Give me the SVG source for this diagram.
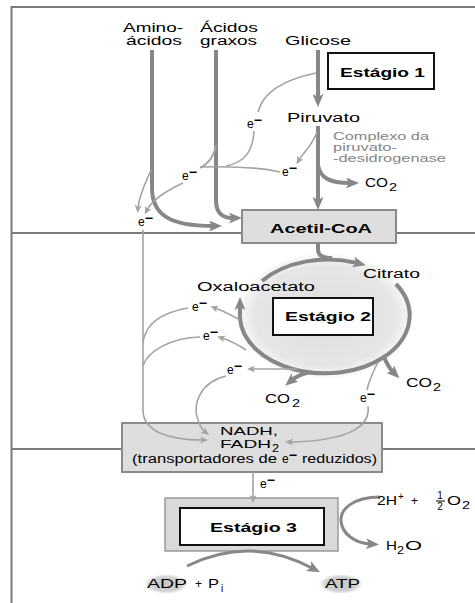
<svg xmlns="http://www.w3.org/2000/svg" width="475" height="603" viewBox="0 0 475 603">
<style>
text{font-family:"Liberation Sans",Arial,sans-serif;font-size:12px;fill:#000}
.b{font-weight:bold;font-size:13px}
.g{fill:#858585;font-size:11px}
.s{font-size:10px}
.n{font-size:11px}
.m{font-weight:bold;font-size:14px}
.frame{stroke:#7a7a7a;stroke-width:2;fill:none}
.thick{stroke:#878787;stroke-width:4;fill:none}
.thin{stroke:#a3a3a3;stroke-width:1.6;fill:none}
.box{fill:#fff;stroke:#111;stroke-width:2}
.gbox{fill:#dedede;stroke:#8a8a8a;stroke-width:2}
</style>
<defs>
<marker id="ah" markerUnits="userSpaceOnUse" markerWidth="13" markerHeight="11" refX="4" refY="5.5" orient="auto" viewBox="0 0 13 11"><path d="M0,0 L13,5.5 L0,11 L3,5.5 Z" fill="#878787"/></marker>
<marker id="as" markerUnits="userSpaceOnUse" markerWidth="8" markerHeight="7" refX="3" refY="3.5" orient="auto" viewBox="0 0 8 7"><path d="M0,0 L8,3.5 L0,7 L2,3.5 Z" fill="#a3a3a3"/></marker>
<radialGradient id="disk" cx="0.5" cy="0.5" r="0.5"><stop offset="0" stop-color="#dcdcdc"/><stop offset="0.8" stop-color="#e6e6e6"/><stop offset="1" stop-color="#fafafa"/></radialGradient>
<radialGradient id="oval" cx="0.5" cy="0.5" r="0.5"><stop offset="0" stop-color="#c8c8c8"/><stop offset="0.7" stop-color="#d0d0d0"/><stop offset="1" stop-color="#ffffff"/></radialGradient>
</defs>

<g id="frame">
<path class="frame" d="M475,7 H11.5 V603"/>
<line class="frame" x1="12" y1="233" x2="475" y2="233"/>
<line class="frame" x1="12" y1="449" x2="475" y2="449"/>
</g>

<g id="cycle-disk"><ellipse cx="325" cy="316" rx="88" ry="62" fill="url(#disk)"/></g>

<g id="estagio1"><rect class="box" x="328" y="53" width="106" height="36"/><text class="b" x="340" y="77" textLength="85" lengthAdjust="spacingAndGlyphs">Estágio 1</text></g>
<g id="acetilcoa"><rect class="gbox" x="242" y="210" width="154" height="33"/><text class="b" x="270" y="233" textLength="102" lengthAdjust="spacingAndGlyphs">Acetil-CoA</text></g>
<g id="estagio2"><rect class="box" x="273" y="298" width="100" height="37"/><text class="b" x="285" y="321" textLength="86" lengthAdjust="spacingAndGlyphs">Estágio 2</text></g>
<g id="nadh"><rect class="gbox" x="122" y="423" width="260" height="49"/>
<text class="n" x="220" y="435" textLength="58" lengthAdjust="spacingAndGlyphs">NADH,</text>
<text class="n" x="220" y="448" textLength="51" lengthAdjust="spacingAndGlyphs">FADH</text><text class="s" x="272" y="452" textLength="7" lengthAdjust="spacingAndGlyphs">2</text>
<text x="132" y="463" textLength="145" lengthAdjust="spacingAndGlyphs">(transportadores de</text>
<text x="282" y="463">e<tspan class="m" dy="-3">−</tspan></text>
<text x="302" y="463" textLength="75" lengthAdjust="spacingAndGlyphs">reduzidos)</text>
</g>
<g id="estagio3"><rect x="165" y="498" width="173" height="53" fill="#d9d9d9" stroke="#9a9a9a" stroke-width="1.5"/><rect class="box" x="180" y="508" width="144" height="37"/><text class="b" x="210" y="532" textLength="87" lengthAdjust="spacingAndGlyphs">Estágio 3</text></g>

<g id="connectors">
<path class="thick" d="M152,50 V188 C152,215 170,226 213,226" marker-end="url(#ah)"/>
<path class="thick" d="M216,50 V200 C216,213 222,218 233,218" marker-end="url(#ah)"/>
<path class="thick" d="M318,50 V98" marker-end="url(#ah)"/>
<path class="thick" d="M318,126 V201" marker-end="url(#ah)"/>
<path class="thick" d="M318,165 C320,178 330,183 350,183" marker-end="url(#ah)"/>
<path class="thick" d="M318,243 V250 Q318,258 332,258"/>
<path class="thick" d="M262,281 A85,58 0 0 1 357,263" marker-end="url(#ah)"/>
<path class="thick" d="M396,284 A85,58 0 0 1 384,357 C387,364 390,369 393,372" marker-end="url(#ah)"/>
<path class="thick" d="M384,357 A85,58 0 0 1 240,318 L240,306" marker-end="url(#ah)"/>
<path class="thick" d="M310,372 Q298,375 292,380" marker-end="url(#ah)"/>
<path class="thick" style="stroke-width:3" d="M380,497 C352,497 340,510 341,521 C342,534 355,543 370,544" marker-end="url(#ah)"/>
<path class="thick" style="stroke-width:3" d="M187,566 Q250,535 312,568" marker-end="url(#ah)"/>

<path class="thin" d="M316,73 C292,78 264,88 258,112"/>
<path class="thin" d="M254,131 C253,150 246,162 226,166"/>
<path class="thin" d="M317,132 C312,146 303,153 299,160" marker-end="url(#as)"/>
<path class="thin" d="M280,172 C262,168 235,166 200,167"/>
<path class="thin" d="M216,145 C214,157 208,164 200,168"/>
<path class="thin" d="M183,183 C168,190 152,200 147,210" marker-end="url(#as)"/>
<path class="thin" d="M151,170 C146,182 139,195 138,208" marker-end="url(#as)"/>
<path class="thin" d="M143,230 V410 C143,432 170,440 203,440" marker-end="url(#as)"/>
<path class="thin" d="M240,320 Q226,312 215,308" marker-end="url(#as)"/>
<path class="thin" d="M246,350 Q234,342 222,338" marker-end="url(#as)"/>
<path class="thin" d="M297,369 L252,369" marker-end="url(#as)"/>
<path class="thin" d="M378,362 C373,372 369,380 367,390"/>
<path class="thin" d="M188,308 C165,312 146,322 143,342"/>
<path class="thin" d="M200,337 C172,338 148,350 143,366"/>
<path class="thin" d="M226,376 C200,382 192,405 198,420 Q201,429 205,432" marker-end="url(#as)"/>
<path class="thin" d="M368,406 C371,428 345,441 290,442" marker-end="url(#as)"/>
<path class="thin" d="M253,472 V498" marker-end="url(#as)"/>
</g>

<g id="labels">
<text x="123" y="32" textLength="60" lengthAdjust="spacingAndGlyphs">Amino-</text>
<text x="126" y="45" textLength="56" lengthAdjust="spacingAndGlyphs">ácidos</text>
<text x="200" y="32" textLength="58" lengthAdjust="spacingAndGlyphs">Ácidos</text>
<text x="200" y="45" textLength="57" lengthAdjust="spacingAndGlyphs">graxos</text>
<text x="285" y="45" textLength="66" lengthAdjust="spacingAndGlyphs">Glicose</text>
<text x="287" y="122" textLength="73" lengthAdjust="spacingAndGlyphs">Piruvato</text>
<text class="g" x="333" y="140" textLength="96" lengthAdjust="spacingAndGlyphs">Complexo da</text>
<text class="g" x="333" y="151" textLength="64" lengthAdjust="spacingAndGlyphs">piruvato-</text>
<text class="g" x="333" y="162" textLength="113" lengthAdjust="spacingAndGlyphs">-desidrogenase</text>
<text x="365" y="187" textLength="23" lengthAdjust="spacingAndGlyphs">CO</text><text class="s" x="389" y="191" textLength="8" lengthAdjust="spacingAndGlyphs">2</text>
<text x="363" y="278" textLength="57" lengthAdjust="spacingAndGlyphs">Citrato</text>
<text x="197" y="291" textLength="118" lengthAdjust="spacingAndGlyphs">Oxaloacetato</text>
<text x="265" y="403" textLength="25" lengthAdjust="spacingAndGlyphs">CO</text><text class="s" x="292" y="407" textLength="8" lengthAdjust="spacingAndGlyphs">2</text>
<text x="406" y="387" textLength="26" lengthAdjust="spacingAndGlyphs">CO</text><text class="s" x="433" y="391" textLength="8" lengthAdjust="spacingAndGlyphs">2</text>

<text x="247" y="128">e<tspan class="m" dy="-3">−</tspan></text>
<text x="282" y="176">e<tspan class="m" dy="-3">−</tspan></text>
<text x="182" y="180">e<tspan class="m" dy="-3">−</tspan></text>
<text x="138" y="226">e<tspan class="m" dy="-3">−</tspan></text>
<text x="192" y="311">e<tspan class="m" dy="-3">−</tspan></text>
<text x="203" y="340">e<tspan class="m" dy="-3">−</tspan></text>
<text x="227" y="374">e<tspan class="m" dy="-3">−</tspan></text>
<text x="360" y="402">e<tspan class="m" dy="-3">−</tspan></text>
<text x="260" y="488">e<tspan class="m" dy="-3">−</tspan></text>

<text x="377" y="505" textLength="20" lengthAdjust="spacingAndGlyphs">2H</text><text class="s" x="398" y="500">+</text>
<text x="411" y="505">+</text>
<text class="s" x="440" y="499" text-anchor="middle">1</text>
<line x1="436" y1="501" x2="445" y2="501" stroke="#000" stroke-width="1"/>
<text class="s" x="440" y="510" text-anchor="middle">2</text>
<text x="447" y="505" textLength="14" lengthAdjust="spacingAndGlyphs">O</text><text class="s" x="462" y="509" textLength="8" lengthAdjust="spacingAndGlyphs">2</text>
<text x="386" y="550" textLength="11" lengthAdjust="spacingAndGlyphs">H</text><text class="s" x="397" y="554" textLength="7" lengthAdjust="spacingAndGlyphs">2</text><text x="405" y="550" textLength="17" lengthAdjust="spacingAndGlyphs">O</text>
</g>

<g id="adp"><ellipse cx="166" cy="584" rx="22" ry="10" fill="url(#oval)"/>
<text x="147" y="588" textLength="40" lengthAdjust="spacingAndGlyphs">ADP</text><text x="195" y="588">+</text><text x="208" y="588" textLength="11" lengthAdjust="spacingAndGlyphs">P</text><text class="s" x="221" y="592">i</text></g>
<g id="atp"><ellipse cx="341" cy="584" rx="22" ry="10" fill="url(#oval)"/>
<text x="325" y="588" textLength="35" lengthAdjust="spacingAndGlyphs">ATP</text></g>
</svg>
